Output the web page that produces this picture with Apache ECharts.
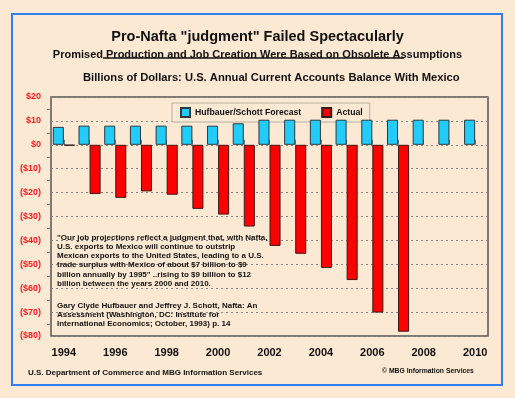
<!DOCTYPE html>
<html>
<head>
<meta charset="utf-8">
<script src="https://cdn.jsdelivr.net/npm/echarts@6/dist/echarts.min.js"></script>
<style>
    html, body {margin: 0; padding: 0; background: #fce9d3;}
    #app {width: 515px; height: 398px;}
</style>
</head>
<body>
<div id="app"></div>
<script>
// data, billions of dollars
var years = ['1994', '1995', '1996', '1997', '1998', '1999', '2000', '2001', '2002',
    '2003', '2004', '2005', '2006', '2007', '2008', '2009', '2010']
var forecast = [7.5, 8, 8, 8, 8, 8, 8, 9, 10.5, 10.5, 10.5, 10.5, 10.5, 10.5, 10.5, 10.5, 10.5]
var actual = [-0.3, -20.6, -22.2, -19.5, -20.9, -26.8, -29.2, -34.2, -42.3, -45.6, -51.5, -56.6, -70.2, -78.2, null, null, null]
var seriesNames = ['Hufbauer/Schott Forecast', 'Actual']

var font = 'Liberation Sans, Arial, sans-serif'

var quote = [
    '"Our job projections reflect a judgment that, with Nafta,',
    'U.S. exports to Mexico will continue to outstrip',
    'Mexican exports to the United States, leading to a U.S.',
    'trade surplus with Mexico of about $7 billion to $9',
    'billion annually by 1995" ..rising to $9 billion to $12',
    'billion between the years 2000 and 2010.'
]
var source = [
    'Gary Clyde Hufbauer and Jeffrey J. Schott, Nafta: An',
    'Assessment (Washington, DC: Institute for',
    'International Economics; October, 1993) p. 14'
]

var chart = echarts.init(document.getElementById('app'))

chart.setOption({
    backgroundColor: '#fce9d3',
    animation: false,
    textStyle: {fontFamily: font},
    title: [
        {
            text: 'Pro-Nafta "judgment" Failed Spectacularly',
            left: 'center', top: 24,
            textStyle: {fontSize: 14.5, fontWeight: 'bold', color: '#111', fontFamily: font}
        },
        {
            text: 'Promised Production and Job Creation Were Based on Obsolete Assumptions',
            left: 'center', top: 44,
            textStyle: {fontSize: 11, fontWeight: 'bold', color: '#111', fontFamily: font}
        },
        {
            text: 'Billions of Dollars: U.S. Annual Current Accounts Balance With Mexico',
            left: 78, top: 67,
            textStyle: {fontSize: 11.2, fontWeight: 'bold', color: '#111', fontFamily: font}
        }
    ],
    legend: {
        data: seriesNames,
        left: 172, top: 103,
        z: 1,
        icon: 'rect',
        itemWidth: 9, itemHeight: 9,
        itemGap: 20,
        padding: [4, 7, 4, 8],
        borderColor: '#b8b0a4',
        borderWidth: 1,
        backgroundColor: '#fce9d3',
        textStyle: {fontSize: 8.7, fontWeight: 'bold', color: '#111', fontFamily: font}
    },
    grid: {
        left: 51, right: 27, top: 97, bottom: 62,
        show: true,
        borderColor: '#555',
        borderWidth: 1.5,
        backgroundColor: 'transparent'
    },
    xAxis: {
        type: 'category',
        data: years,
        axisLine: {show: false},
        axisTick: {
            show: true, inside: true, alignWithLabel: true, interval: 0, length: 5,
            lineStyle: {color: '#777'}
        },
        axisLabel: {
            interval: 1, margin: 11,
            fontSize: 11, fontWeight: 'bold', color: '#111', fontFamily: font
        }
    },
    yAxis: {
        type: 'value',
        min: -80, max: 20, interval: 10,
        axisLine: {show: false},
        axisTick: {show: false},
        minorTick: {show: true, splitNumber: 2, length: 4, lineStyle: {color: '#777'}},
        splitLine: {lineStyle: {color: '#8a8580', type: [2, 3], width: 1}},
        axisLabel: {
            margin: 10,
            fontSize: 9, fontWeight: 'bold', color: '#ff1a1a', fontFamily: font,
            formatter: (v) => v < 0 ? `($${-v})` : `$${v}`
        }
    },
    series: [
        {
            name: seriesNames[0],
            type: 'bar',
            z: 3,
            data: forecast,
            barGap: 0,
            barCategoryGap: '14%',
            itemStyle: {color: '#22ccf8', borderColor: '#2a3a40', borderWidth: 1}
        },
        {
            name: seriesNames[1],
            type: 'bar',
            z: 3,
            data: actual,
            itemStyle: {color: '#ff0000', borderColor: '#3a1a1a', borderWidth: 1}
        }
    ],
    graphic: [
        // blue frame round everything
        {
            type: 'rect', z: 0,
            shape: {x: 12, y: 14, width: 490, height: 371},
            style: {fill: 'none', stroke: '#2f7ff0', lineWidth: 2}
        },
        // underline under the sub title
        {
            type: 'line', z: 5,
            shape: {x1: 103, y1: 58, x2: 404, y2: 58},
            style: {stroke: '#111', lineWidth: 1.6}
        },
        {
            type: 'text', z: 5, left: 57, top: 233,
            style: {
                text: quote.join('\n'),
                font: `bold 8px ${font}`,
                lineHeight: 9.2,
                fill: '#111'
            }
        },
        {
            type: 'text', z: 5, left: 57, top: 301,
            style: {
                text: source.join('\n'),
                font: `bold 8px ${font}`,
                lineHeight: 9.2,
                fill: '#111'
            }
        },
        {
            type: 'text', z: 5, left: 28, top: 369,
            style: {
                text: 'U.S. Department of Commerce and MBG Information Services',
                font: `bold 8px ${font}`,
                fill: '#111'
            }
        },
        {
            type: 'text', z: 5, left: 382, top: 368,
            style: {
                text: '© MBG Information Services',
                font: `bold 6.8px ${font}`,
                fill: '#111'
            }
        }
    ]
})
</script>
</body>
</html>
